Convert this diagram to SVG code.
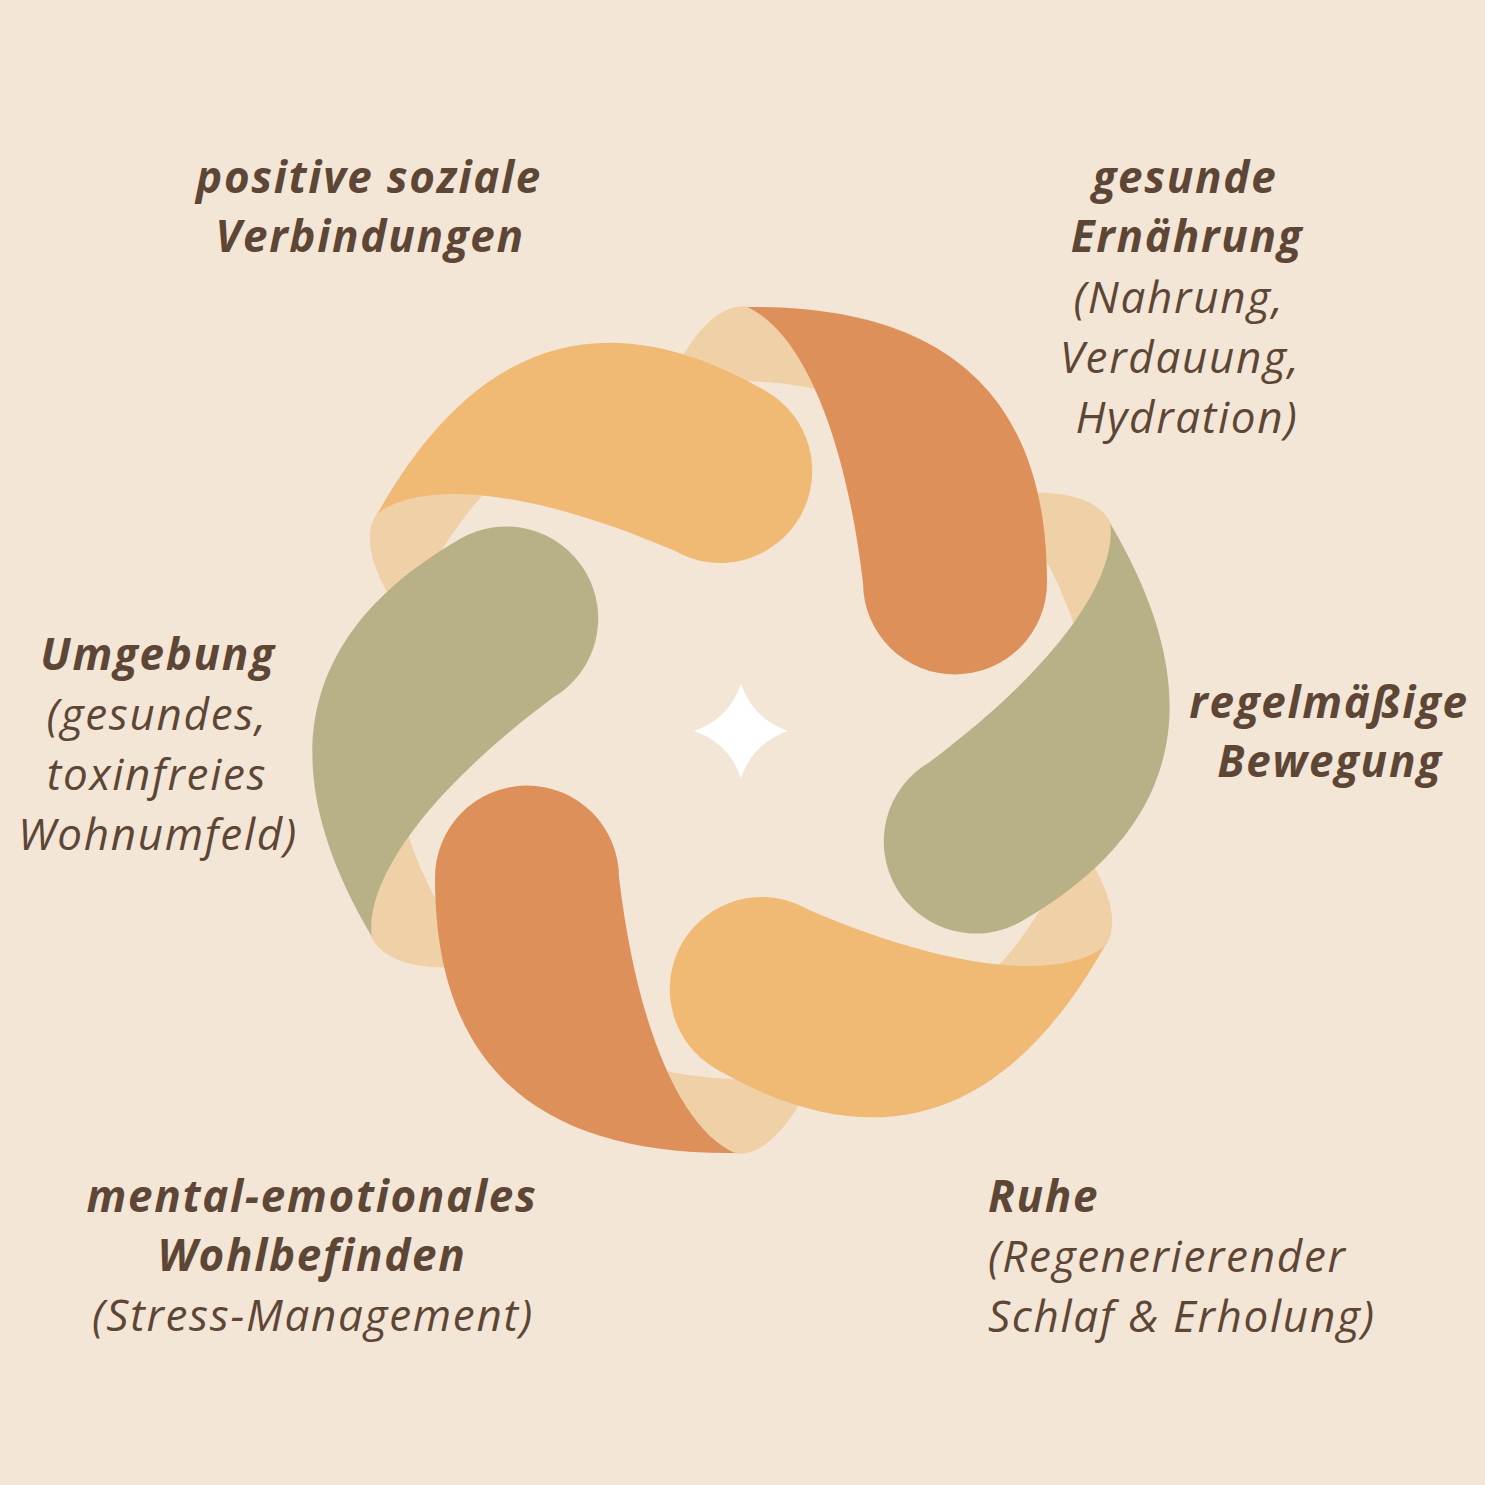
<svg xmlns="http://www.w3.org/2000/svg" xmlns:xlink="http://www.w3.org/1999/xlink" width="1485" height="1485" viewBox="0 0 1485 1485">
  <style>
    .t { font-family: "Open Sans", "DejaVu Sans", sans-serif; font-style: italic; font-size: 44px; fill: #5E4636; letter-spacing: 1.7px; }
    .b { font-weight: 700; }
    .r { font-weight: 400; }
    .m { text-anchor: middle; }
    .fold { fill: #F0D0A7; }
    .orange { fill: #DE905B; }
    .olive { fill: #B8B187; }
    .light { fill: #F0B974; }
  </style>
  <defs>
    <path id="petal" d="M 747,307 C 800,330 845,430 863,583 A 92 92 0 0 0 1047,582 C 1047,390 940,305 747,307 Z"/>
    <path id="foldshape" d="M 750,307 C 727,302 701,322 680,361 L 720,430 L 725,381 C 760,380 800,384 832,393 L 815,350 L 790,326 L 760,310 Z"/>
  </defs>
  <rect x="0" y="0" width="1485" height="1485" fill="#F3E6D7"/>

  <g id="folds">
    <use xlink:href="#foldshape" href="#foldshape" class="fold"/>
    <use xlink:href="#foldshape" href="#foldshape" class="fold" transform="rotate(60 741 730)"/>
    <use xlink:href="#foldshape" href="#foldshape" class="fold" transform="rotate(120 741 730)"/>
    <use xlink:href="#foldshape" href="#foldshape" class="fold" transform="rotate(180 741 730)"/>
    <use xlink:href="#foldshape" href="#foldshape" class="fold" transform="rotate(240 741 730)"/>
    <use xlink:href="#foldshape" href="#foldshape" class="fold" transform="rotate(300 741 730)"/>
  </g>

  <g id="petal-ernaehrung"><use xlink:href="#petal" href="#petal" class="orange"/></g>
  <g id="petal-bewegung"><use xlink:href="#petal" href="#petal" class="olive" transform="rotate(60 741 730)"/></g>
  <g id="petal-ruhe"><use xlink:href="#petal" href="#petal" class="light" transform="rotate(120 741 730)"/></g>
  <g id="petal-wohlbefinden"><use xlink:href="#petal" href="#petal" class="orange" transform="rotate(180 741 730)"/></g>
  <g id="petal-umgebung"><use xlink:href="#petal" href="#petal" class="olive" transform="rotate(240 741 730)"/></g>
  <g id="petal-sozial"><use xlink:href="#petal" href="#petal" class="light" transform="rotate(300 741 730)"/></g>

  <g id="star">
    <path d="M 741,684 Q 753,719 788,731 Q 753,743 741,778 Q 729,743 694,731 Q 729,719 741,684 Z" fill="#FFFFFF"/>
  </g>

  <g id="label-sozial">
    <text class="t b m" x="369" y="193">positive soziale</text>
    <text class="t b m" x="370" y="252">Verbindungen</text>
  </g>
  <g id="label-ernaehrung">
    <text class="t b m" x="1185" y="193">gesunde</text>
    <text class="t b m" x="1187" y="252">Ernährung</text>
    <text class="t r m" x="1179" y="313">(Nahrung,</text>
    <text class="t r m" x="1180" y="373">Verdauung,</text>
    <text class="t r m" x="1187" y="433">Hydration)</text>
  </g>
  <g id="label-bewegung">
    <text class="t b m" x="1329" y="718">regelmäßige</text>
    <text class="t b m" x="1330" y="777">Bewegung</text>
  </g>
  <g id="label-umgebung">
    <text class="t b m" x="158" y="670">Umgebung</text>
    <text class="t r m" x="157" y="730">(gesundes,</text>
    <text class="t r m" x="157" y="790">toxinfreies</text>
    <text class="t r m" x="158" y="850">Wohnumfeld)</text>
  </g>
  <g id="label-wohlbefinden">
    <text class="t b m" x="312" y="1212">mental-emotionales</text>
    <text class="t b m" x="312" y="1271">Wohlbefinden</text>
    <text class="t r m" x="313" y="1331">(Stress-Management)</text>
  </g>
  <g id="label-ruhe">
    <text class="t b" x="988" y="1212">Ruhe</text>
    <text class="t r" x="988" y="1272">(Regenerierender</text>
    <text class="t r" x="988" y="1332">Schlaf &amp; Erholung)</text>
  </g>
</svg>
